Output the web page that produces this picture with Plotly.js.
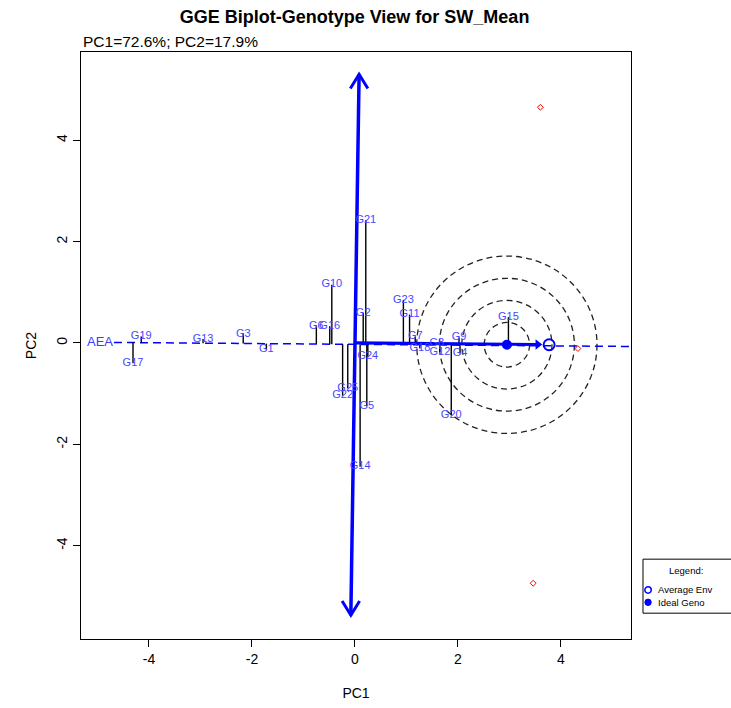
<!DOCTYPE html>
<html><head><meta charset="utf-8">
<script src="https://cdn.plot.ly/plotly-3.0.1.min.js"></script>
<style>body{margin:0;background:#fff}#chart{width:731px;height:708px}</style>
</head><body>
<div id="chart"></div>
<script>
// ---- data ----
const genotypes = ['G1','G2','G3','G4','G5','G6','G7','G8','G9','G10','G11','G12','G13','G14','G15','G16','G17','G18','G19','G20','G21','G22','G23','G24','G25'];
const pc1 = [-1.72, 0.16, -2.17, 2.04, 0.23, -0.75, 1.17, 1.59, 2.02, -0.45, 1.06, 1.65, -2.95, 0.10, 2.98, -0.49, -4.31, 1.26, -4.15, 1.87, 0.21, -0.24, 0.94, 0.25, -0.14];
const pc2 = [-0.13, 0.59, 0.18, -0.21, -1.25, 0.33, 0.13, -0.01, 0.11, 1.15, 0.56, -0.18, 0.08, -2.44, 0.51, 0.33, -0.40, -0.11, 0.13, -1.43, 2.42, -1.04, 0.85, -0.27, -0.90];
const envPC1 = [3.60, 4.33, 3.46];
const envPC2 = [4.65, -0.11, -4.74];
const avgEnvPC1 = [3.77];
const avgEnvPC2 = [-0.035];
const idealPC1 = [2.95];
const idealPC2 = [-0.035];
const arrowTipPC1 = [3.63];
const arrowTipPC2 = [-0.03];
const aeaX = [-4.68, 5.45];
const aeaY = [0.01, -0.07];
const perpX = [0.08, -0.08];
const perpY = [5.30, -5.37];
const circleRadii = [0.44, 0.875, 1.31, 1.75];
const xTicks = [-4, -2, 0, 2, 4];
const yTicks = [-4, -2, 0, 2, 4];
const legendItems = ['Average Env', 'Ideal Geno'];

const FONT = 'Liberation Sans, Arial, sans-serif';
const BLUE = '#0000ff';

// foot of each genotype on the AEA line
function aeaYAt(x){ return aeaY[0] + (aeaY[1]-aeaY[0])*(x-aeaX[0])/(aeaX[1]-aeaX[0]); }
const projX = [], projY = [];
pc1.forEach((x,i)=>{ projX.push(x, x, null); projY.push(pc2[i], aeaYAt(x), null); });

const hdx = 0.17, hdy = 0.28;
const headX = [perpX[0]-hdx, perpX[0], perpX[0]+hdx, null, perpX[1]-hdx, perpX[1], perpX[1]+hdx];
const headY = [perpY[0]-hdy, perpY[0], perpY[0]-hdy, null, perpY[1]+hdy, perpY[1], perpY[1]+hdy];

const traces = [
  {x: aeaX, y: aeaY, mode:'lines', line:{color:BLUE, width:1.5, dash:'8px,5px'}, hoverinfo:'skip'},
  {x: projX, y: projY, mode:'lines', line:{color:'#000', width:1.4}, hoverinfo:'skip'},
  {x: perpX, y: perpY, mode:'lines', line:{color:BLUE, width:3.5}, hoverinfo:'skip'},
  {x: headX, y: headY, mode:'lines', line:{color:BLUE, width:3}, hoverinfo:'skip'},
  {x: [0, arrowTipPC1[0]-0.1], y: [0, arrowTipPC2[0]], mode:'lines', line:{color:BLUE, width:3.2}, hoverinfo:'skip'},
  {x: arrowTipPC1.map(v=>v-0.08), y: arrowTipPC2, mode:'markers', marker:{symbol:'triangle-right', size:9, color:BLUE}, hoverinfo:'skip'},
  {x: avgEnvPC1, y: avgEnvPC2, mode:'markers', marker:{symbol:'circle-open', size:11, color:BLUE, line:{width:2, color:BLUE}}, hoverinfo:'skip'},
  {x: idealPC1, y: idealPC2, mode:'markers', marker:{symbol:'circle', size:10, color:BLUE}, hoverinfo:'skip'},
  {x: envPC1, y: envPC2, mode:'markers', marker:{symbol:'diamond-open', size:4.5, color:'#ff0000', line:{width:1, color:'#ff0000'}}, hoverinfo:'skip'},
  {x: pc1, y: pc2, mode:'text', text: genotypes, textposition:'middle center', textfont:{family:FONT, size:11, color:'#4646ff'}, hoverinfo:'text'},
  {x: [aeaX[0]-0.27], y: [aeaY[0]], mode:'text', text:['AEA'], textposition:'middle center', textfont:{family:FONT, size:13, color:'#3c3cff'}, hoverinfo:'skip'}
];

const shapes = circleRadii.map(r => ({
  type:'circle', xref:'x', yref:'y', layer:'below',
  x0: idealPC1[0]-r, x1: idealPC1[0]+r, y0: idealPC2[0]-r, y1: idealPC2[0]+r,
  line:{color:'#222', width:1.3, dash:'6px,4px'}
}));
// legend box (extends past the right edge, as in the reference)
shapes.push({type:'rect', xref:'paper', yref:'paper', x0:1.0218, x1:1.20, y0:0.044, y1:0.136, line:{color:'#000', width:1}, fillcolor:'rgba(0,0,0,0)'});
// legend symbols: open circle (average environment), filled circle (ideal genotype)
const lgX = 1.0310, lgRows = [0.0835, 0.0625], rx = 3.2/550, ry = 3.2/587;
shapes.push({type:'circle', xref:'paper', yref:'paper', x0:lgX-rx, x1:lgX+rx, y0:lgRows[0]-ry, y1:lgRows[0]+ry, line:{color:BLUE, width:1.5}, fillcolor:'rgba(0,0,0,0)'});
shapes.push({type:'circle', xref:'paper', yref:'paper', x0:lgX-rx, x1:lgX+rx, y0:lgRows[1]-ry, y1:lgRows[1]+ry, line:{color:BLUE, width:1}, fillcolor:BLUE});

const annotations = [
  {xref:'paper', yref:'paper', x:0, y:1, xanchor:'left', yanchor:'bottom', yshift:0, showarrow:false,
   text:'PC1=72.6%; PC2=17.9%', font:{family:FONT, size:15.5, color:'#000'}},
  {xref:'paper', yref:'paper', x:1.10, y:0.117, xanchor:'center', yanchor:'middle', showarrow:false,
   text:'Legend:', font:{family:FONT, size:9.5, color:'#000'}}
];
legendItems.forEach((t,i)=>annotations.push({xref:'paper', yref:'paper', x:1.0455, y:lgRows[i], xanchor:'left', yanchor:'middle', showarrow:false,
   text:t, font:{family:FONT, size:9.5, color:'#000'}}));

const layout = {
  width:731, height:708,
  margin:{l:81, r:100, t:52, b:69},
  paper_bgcolor:'#fff', plot_bgcolor:'#fff',
  showlegend:false,
  font:{family:FONT, size:14, color:'#000'},
  title:{text:'<b>GGE Biplot-Genotype View for SW_Mean</b>', x:0.485, xanchor:'center', y:0.976, yanchor:'middle',
         font:{family:FONT, size:18, color:'#000'}},
  xaxis:{range:[-5.32, 5.36], tickvals:xTicks, ticktext:xTicks.map(String), ticks:'outside', ticklen:7, tickcolor:'#000',
         showline:true, mirror:true, linecolor:'#000', linewidth:1, showgrid:false, zeroline:false,
         tickfont:{family:FONT, size:14}, title:{text:'PC1', font:{family:FONT, size:14}, standoff:22}},
  yaxis:{range:[-5.84, 5.74], tickvals:yTicks, ticktext:yTicks.map(String), ticks:'outside', ticklen:7, tickcolor:'#000',
         tickangle:-90,
         showline:true, mirror:true, linecolor:'#000', linewidth:1, showgrid:false, zeroline:false,
         tickfont:{family:FONT, size:14}, title:{text:'PC2', font:{family:FONT, size:14}, standoff:14}},
  shapes:shapes,
  annotations:annotations
};

Plotly.newPlot('chart', traces, layout, {staticPlot:true, displayModeBar:false});
</script>
</body></html>
